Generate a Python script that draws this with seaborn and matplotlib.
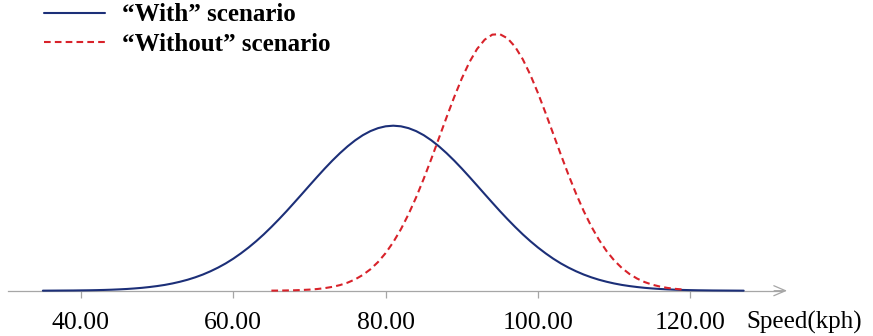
import matplotlib
matplotlib.use("Agg")
import matplotlib.pyplot as plt
import seaborn as sns
import pandas as pd

# Values (relative density, arbitrary units)
with_speed = list(range(35, 128))
with_density = [0.001, 0.002, 0.003, 0.004, 0.005, 0.007, 0.009, 0.012, 0.016, 0.021, 0.028, 0.036,
                0.047, 0.060, 0.077, 0.097, 0.121, 0.151, 0.187, 0.229, 0.279, 0.337, 0.405, 0.482,
                0.569, 0.668, 0.779, 0.900, 1.032, 1.175, 1.329, 1.491, 1.660, 1.836, 2.014, 2.194,
                2.372, 2.546, 2.712, 2.867, 3.009, 3.135, 3.242, 3.327, 3.389, 3.427, 3.440,
                3.427, 3.389, 3.327, 3.242, 3.135, 3.009, 2.867, 2.712, 2.546, 2.372, 2.194,
                2.014, 1.836, 1.660, 1.491, 1.329, 1.175, 1.032, 0.900, 0.779, 0.668, 0.569,
                0.482, 0.405, 0.337, 0.279, 0.229, 0.187, 0.151, 0.121, 0.097, 0.077, 0.060,
                0.047, 0.036, 0.028, 0.021, 0.016, 0.012, 0.009, 0.007, 0.005, 0.004, 0.003,
                0.002, 0.001]

without_speed = list(range(65, 120))
without_density = [0.002, 0.003, 0.006, 0.009, 0.015, 0.023, 0.035, 0.054, 0.080, 0.117, 0.168,
                   0.237, 0.329, 0.447, 0.598, 0.785, 1.012, 1.281, 1.594, 1.946, 2.335, 2.750,
                   3.183, 3.617, 4.037, 4.426, 4.765, 5.039, 5.233, 5.338, 5.347, 5.261, 5.084,
                   4.825, 4.498, 4.118, 3.702, 3.270, 2.836, 2.416, 2.021, 1.661, 1.340, 1.062,
                   0.827, 0.632, 0.475, 0.350, 0.254, 0.180, 0.126, 0.087, 0.058, 0.039, 0.025]

tick_values = [40, 60, 80, 100, 120]
tick_labels = ["40.00", "60.00", "80.00", "100.00", "120.00"]
series_labels = ["\u201cWith\u201d scenario", "\u201cWithout\u201d scenario"]
axis_label = "Speed(kph)"

sns.set_theme(style="white")
plt.rcParams["font.family"] = ["Liberation Serif", "DejaVu Serif"]

fig = plt.figure(figsize=(8.73, 3.36), dpi=100)
ax = fig.add_axes([0, 0, 1, 1])

df_with = pd.DataFrame({"speed": with_speed, "density": with_density})
df_without = pd.DataFrame({"speed": without_speed, "density": without_density})

sns.lineplot(data=df_with, x="speed", y="density", ax=ax, color="#1c2f78", lw=1.5,
             label=series_labels[0])
sns.lineplot(data=df_without, x="speed", y="density", ax=ax, color="#d8222a", lw=1.5,
             dashes=False, label=series_labels[1])
ax.lines[1].set_dashes((3.2, 2))

ax.set_xlim(29.37, 143.98)
ax.set_ylim(-0.944, 6.06)

for s in ["top", "right", "left"]:
    ax.spines[s].set_visible(False)
ax.spines["bottom"].set_position(("data", 0))
ax.spines["bottom"].set_bounds(30.4, 132.0)
ax.spines["bottom"].set_color("#a6a6a6")
ax.spines["bottom"].set_linewidth(0.9)
ax.spines["bottom"].set_zorder(0)
ax.annotate("", xy=(132.7, 0), xytext=(131.0, 0),
            arrowprops=dict(arrowstyle="->,head_length=0.7,head_width=0.3",
                            color="#a6a6a6", lw=0.9, shrinkA=0, shrinkB=0))

ax.set_xticks(tick_values)
ax.set_xticklabels(tick_labels)
ax.set_yticks([])
ax.tick_params(axis="x", direction="out", length=5, width=0.9, color="#a6a6a6",
               labelsize=18.5, pad=10, bottom=True, labelcolor="#000000")
ax.set_xlabel("")
ax.set_ylabel("")
ax.text(127.4, -0.79, axis_label, fontsize=18, color="#000000", ha="left", va="baseline")

leg = ax.legend(loc="upper left", bbox_to_anchor=(0.05, 0.99), frameon=False,
                prop={"weight": "bold", "size": 18}, handlelength=2.45,
                handletextpad=0.7, labelspacing=0.27, borderpad=0.0, borderaxespad=0.0,
                labelcolor="#000000")

fig.savefig("out.png", dpi=100)
